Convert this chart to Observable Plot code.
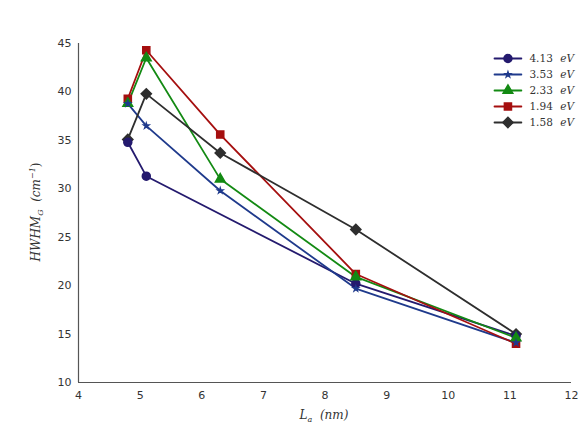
<!DOCTYPE html>
<html><head><meta charset="utf-8">
<script src="https://cdn.jsdelivr.net/npm/d3@7"></script>
<script src="https://cdn.jsdelivr.net/npm/@observablehq/plot@0.6"></script>
<style>
body{margin:0;background:#fff;}
#wrap{position:relative;width:588px;height:427px;}
#wrap svg{font-family:"DejaVu Sans",sans-serif;}
</style></head>
<body><div id="wrap"></div>
<script>
const labels = ["4.13 eV","3.53 eV","2.33 eV","1.94 eV","1.58 eV"];
const colors = ["#241a6e","#1f3a8c","#138a13","#a50f0f","#2e2e2e"];
const symbols = ["circle","star","triangle","square","diamond2"];
const x413 = [4.8,5.1,8.5,11.1];       const y413 = [34.8,31.3,20.2,14.8];
const x353 = [4.8,5.1,6.3,8.5,11.1];   const y353 = [38.8,36.5,29.8,19.7,14.1];
const x233 = [4.8,5.1,6.3,8.5,11.1];   const y233 = [38.8,43.5,31.0,20.9,14.6];
const x194 = [4.8,5.1,6.3,8.5,11.1];   const y194 = [39.3,44.3,35.6,21.2,14.0];
const x158 = [4.8,5.1,6.3,8.5,11.1];   const y158 = [35.1,39.8,33.7,25.8,15.0];
const xTicks = [4,5,6,7,8,9,10,11,12];
const yTicks = [10,15,20,25,30,35,40,45];

const xsAll=[x413,x353,x233,x194,x158], ysAll=[y413,y353,y233,y194,y158];
const sizes=[4,1.6,3.6,4,4.6];
const data = [];
xsAll.forEach((xs,i)=>xs.forEach((x,j)=>data.push({s:labels[i],i,x,y:ysAll[i][j],r:sizes[i]})));

const colorScale = {domain: labels, range: colors};
const symScale = {domain: labels, range: symbols};

const chart = Plot.plot({
  width:588, height:427,
  marginLeft:78, marginRight:17, marginTop:43, marginBottom:45,
  style:{fontSize:"11px", color:"#333", fontFamily:"DejaVu Sans, sans-serif"},
  x:{domain:[4,12], ticks:xTicks, tickSize:0, tickPadding:9, label:null, tickFormat:d=>d},
  y:{domain:[10,45], ticks:yTicks, tickSize:0, tickPadding:7, label:null},
  r:{type:"identity"},
  color:colorScale, symbol:symScale,
  marks:[
    Plot.ruleX([4],{stroke:"#555",strokeWidth:1.2}),
    Plot.ruleY([10],{stroke:"#555",strokeWidth:1.2}),
    Plot.line(data,{x:"x",y:"y",z:"s",stroke:"s",strokeWidth:1.8}),
    Plot.dot(data,{x:"x",y:"y",symbol:"s",fill:"s",stroke:"s",r:"r"})
  ]
});
const wrap=document.getElementById("wrap");
wrap.appendChild(chart);

// axis titles (math-style)
const svg=d3.select(chart);
const yl=svg.append("text").attr("transform","translate(40,212) rotate(-90)")
  .attr("text-anchor","middle").attr("font-family","DejaVu Serif, serif").attr("font-style","italic")
  .attr("font-size","12px").attr("fill","#333");
yl.append("tspan").text("HWHM");
yl.append("tspan").attr("font-size","8px").attr("dy","3").text("G");
yl.append("tspan").attr("dy","-3").text("  (cm");
yl.append("tspan").attr("font-size","8px").attr("dy","-5").text("−1");
yl.append("tspan").attr("dy","5").attr("font-style","normal").text(")");
const xl=svg.append("text").attr("x",324).attr("y",419)
  .attr("text-anchor","middle").attr("font-family","DejaVu Serif, serif").attr("font-style","italic")
  .attr("font-size","12px").attr("fill","#333");
xl.append("tspan").text("L");
xl.append("tspan").attr("font-size","8px").attr("dy","3").text("a");
xl.append("tspan").attr("dy","-3").text("  (nm)");

// legend
const legRows = labels.map((s,i)=>({s,i,r:sizes[i]}));
const legLines = legRows.flatMap(d=>[{s:d.s,i:d.i,x:0},{s:d.s,i:d.i,x:1}]);
const legend = Plot.plot({
  width:92, height:90, marginTop:10, marginBottom:16, marginLeft:6, marginRight:0,
  x:{domain:[0,3.2], axis:null}, y:{domain:[0,4], axis:null, reverse:true},
  r:{type:"identity"},
  color:colorScale, symbol:symScale,
  marks:[
    Plot.line(legLines,{x:"x",y:"i",z:"s",stroke:"s",strokeWidth:1.8}),
    Plot.dot(legRows,{x:0.5,y:"i",symbol:"s",fill:"s",stroke:"s",r:"r"}),
    Plot.text(legRows,{x:1.3,y:"i",text:d=>d.s.split(" ")[0],textAnchor:"start",fill:"#333",fontSize:10.5,fontFamily:"DejaVu Serif, serif"}),
    Plot.text(legRows,{x:2.45,y:"i",text:d=>d.s.split(" ")[1],textAnchor:"start",fill:"#333",fontSize:10.5,fontFamily:"DejaVu Serif, serif",fontStyle:"italic"})
  ]
});
legend.style.position="absolute";
legend.style.left="488px";
legend.style.top="48px";
wrap.appendChild(legend);
</script></body></html>
